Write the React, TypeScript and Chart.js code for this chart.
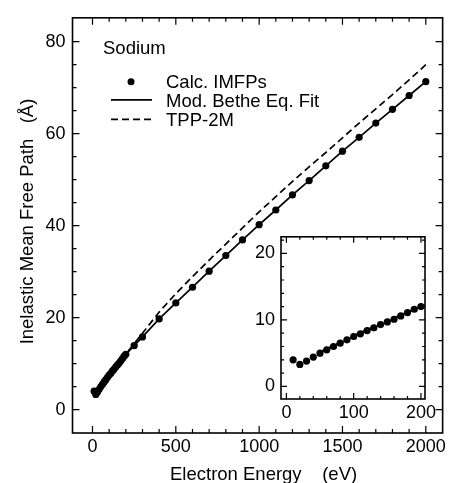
import React, { useEffect, useRef } from "react";
import { Chart, registerables } from "chart.js";

Chart.register(...registerables);

// ---------- data ----------
const calcEnergy = [10, 20, 30, 40, 50, 60, 70, 80, 90, 100, 110, 120, 130, 140, 150, 160, 170, 180, 190, 200, 250, 300, 400, 500, 600, 700, 800, 900, 1000, 1100, 1200, 1300, 1400, 1500, 1600, 1700, 1800, 1900, 2000];
const calcImfp = [4.0, 3.3, 3.8, 4.4, 5.0, 5.5, 6.0, 6.5, 7.0, 7.5, 7.9, 8.4, 8.8, 9.3, 9.7, 10.1, 10.6, 11.1, 11.6, 12.0, 13.9, 15.8, 19.7, 23.2, 26.6, 30.1, 33.5, 36.9, 40.2, 43.4, 46.7, 49.8, 53.0, 56.2, 59.2, 62.3, 65.3, 68.3, 71.3];

const fitEnergy = [50, 100, 150, 200, 250, 300, 400, 500, 600, 700, 800, 900, 1000, 1100, 1200, 1300, 1400, 1500, 1600, 1700, 1800, 1900, 2000];
const fitImfp = [5.0, 7.5, 9.7, 12.0, 13.9, 15.8, 19.7, 23.2, 26.6, 30.1, 33.5, 36.9, 40.2, 43.4, 46.7, 49.8, 53.0, 56.2, 59.2, 62.3, 65.3, 68.3, 71.3];

const tppEnergy = [50, 100, 150, 200, 250, 300, 400, 500, 600, 700, 800, 900, 1000, 1100, 1200, 1300, 1400, 1500, 1600, 1700, 1800, 1900, 2000];
const tppImfp = [5.2, 7.7, 9.9, 12.1, 14.3, 16.6, 21.2, 25.2, 28.9, 32.5, 36.0, 39.5, 43.0, 46.3, 49.6, 52.8, 55.9, 59.1, 62.3, 65.4, 68.5, 71.7, 75.0];

// main axes ticks
const xTickValues = [0, 500, 1000, 1500, 2000];
const xTickLabels = ["0", "500", "1000", "1500", "2000"];
const xMinorTicks = [0, 100, 200, 300, 400, 500, 600, 700, 800, 900, 1000, 1100, 1200, 1300, 1400, 1500, 1600, 1700, 1800, 1900, 2000];
const yTickValues = [0, 20, 40, 60, 80];
const yTickLabels = ["0", "20", "40", "60", "80"];
const yMinorTicks = [0, 5, 10, 15, 20, 25, 30, 35, 40, 45, 50, 55, 60, 65, 70, 75, 80];

// inset axes ticks
const insetXTickValues = [0, 100, 200];
const insetXTickLabels = ["0", "100", "200"];
const insetXMinorTicks = [0, 20, 40, 60, 80, 100, 120, 140, 160, 180, 200];
const insetYTickValues = [0, 10, 20];
const insetYTickLabels = ["0", "10", "20"];
const insetYMinorTicks = [0, 2, 4, 6, 8, 10, 12, 14, 16, 18, 20, 22];
const insetMaxEnergy = 200;

// texts
const materialLabel = "Sodium";
const seriesNames = ["Calc. IMFPs", "Mod. Bethe Eq. Fit", "TPP-2M"];
const xTitle = "Electron Energy    (eV)";
const yTitle = "Inelastic Mean Free Path   (Å)";

const FONT = "'Liberation Sans', Arial, Helvetica, sans-serif";

const pts = (xs: number[], ys: number[]) => xs.map((x, i) => ({ x, y: ys[i] }));

type FrameSpec = {
  xMinor: number[];
  xMajor: number[];
  yMinor: number[];
  yMajor: number[];
  majorLen: number;
  minorLen: number;
  fill: boolean;
};

const makeFramePlugin = (spec: FrameSpec) => ({
  id: "frameTicks",
  beforeDraw(chart: any) {
    if (!spec.fill) return;
    const { ctx, chartArea: a } = chart;
    ctx.save();
    ctx.fillStyle = "#ffffff";
    ctx.fillRect(a.left, a.top, a.right - a.left, a.bottom - a.top);
    ctx.restore();
  },
  afterDraw(chart: any) {
    const { ctx, chartArea: a } = chart;
    const xs = chart.scales.x;
    const ys = chart.scales.y;
    ctx.save();
    ctx.strokeStyle = "#000";
    ctx.lineWidth = 1.6;
    ctx.strokeRect(a.left, a.top, a.right - a.left, a.bottom - a.top);
    ctx.lineWidth = 1.2;
    ctx.beginPath();
    for (const v of spec.xMinor) {
      const px = xs.getPixelForValue(v);
      const len = spec.xMajor.includes(v) ? spec.majorLen : spec.minorLen;
      ctx.moveTo(px, a.bottom);
      ctx.lineTo(px, a.bottom - len);
      ctx.moveTo(px, a.top);
      ctx.lineTo(px, a.top + len);
    }
    for (const v of spec.yMinor) {
      const py = ys.getPixelForValue(v);
      const len = spec.yMajor.includes(v) ? spec.majorLen : spec.minorLen;
      ctx.moveTo(a.left, py);
      ctx.lineTo(a.left + len, py);
      ctx.moveTo(a.right, py);
      ctx.lineTo(a.right - len, py);
    }
    ctx.stroke();
    ctx.restore();
  },
});

const annotationPlugin = {
  id: "annotations",
  afterDraw(chart: any) {
    const { ctx, chartArea: a } = chart;
    ctx.save();
    ctx.fillStyle = "#000";
    ctx.strokeStyle = "#000";
    ctx.font = `18.5px ${FONT}`;
    ctx.textBaseline = "alphabetic";
    ctx.textAlign = "left";
    // material label
    ctx.fillText(materialLabel, a.left + 30.5, a.top + 36.5);
    // legend
    const textX = a.left + 93.5;
    const row = [a.top + 70, a.top + 88.8, a.top + 108.3];
    const mid = [a.top + 64, a.top + 82, a.top + 101.5];
    ctx.beginPath();
    ctx.arc(a.left + 58.5, mid[0], 3.5, 0, Math.PI * 2);
    ctx.fill();
    ctx.lineWidth = 1.7;
    ctx.beginPath();
    ctx.moveTo(a.left + 38.5, mid[1]);
    ctx.lineTo(a.left + 79.5, mid[1]);
    ctx.stroke();
    ctx.setLineDash([7, 4]);
    ctx.beginPath();
    ctx.moveTo(a.left + 38.5, mid[2]);
    ctx.lineTo(a.left + 80.5, mid[2]);
    ctx.stroke();
    ctx.setLineDash([]);
    seriesNames.forEach((n, i) => ctx.fillText(n, textX, row[i]));
    // axis titles
    ctx.font = `18.5px ${FONT}`;
    ctx.fillText(xTitle, 170, 480);
    ctx.translate(33, 221.5);
    ctx.rotate(-Math.PI / 2);
    ctx.textAlign = "center";
    ctx.fillText(yTitle, 0, 0);
    ctx.restore();
  },
};

const tickFont = { family: FONT, size: 18 };

export default function App() {
  const mainRef = useRef<HTMLCanvasElement>(null);
  const insetRef = useRef<HTMLCanvasElement>(null);

  useEffect(() => {
    const main = new Chart(mainRef.current as HTMLCanvasElement, {
      type: "scatter",
      data: {
        datasets: [
          {
            label: seriesNames[0],
            data: pts(calcEnergy, calcImfp),
            pointRadius: 3.6,
            pointBackgroundColor: "#000",
            pointBorderColor: "#000",
            pointBorderWidth: 0,
            showLine: false,
          },
          {
            label: seriesNames[1],
            data: pts(fitEnergy, fitImfp),
            showLine: true,
            borderColor: "#000",
            borderWidth: 1.7,
            pointRadius: 0,
          },
          {
            label: seriesNames[2],
            data: pts(tppEnergy, tppImfp),
            showLine: true,
            borderColor: "#000",
            borderWidth: 1.7,
            borderDash: [7, 4],
            pointRadius: 0,
          },
        ],
      } as any,
      options: {
        responsive: false,
        animation: false,
        events: [],
        layout: { padding: { top: 15, right: 4, left: 0, bottom: 0 } },
        plugins: { legend: { display: false }, tooltip: { enabled: false } },
        scales: {
          x: {
            type: "linear",
            min: -120,
            max: 2101,
            afterBuildTicks: (s: any) => {
              s.ticks = xTickValues.map((v) => ({ value: v }));
            },
            afterFit: (s: any) => {
              s.height = 50;
            },
            grid: { display: false, drawTicks: false },
            border: { display: false },
            ticks: {
              color: "#000",
              font: tickFont,
              padding: 3,
              maxRotation: 0,
              autoSkip: false,
              callback: (v: any) => xTickLabels[xTickValues.indexOf(Number(v))] ?? "",
            },
          },
          y: {
            type: "linear",
            min: -5.1,
            max: 85.2,
            afterBuildTicks: (s: any) => {
              s.ticks = yTickValues.map((v) => ({ value: v }));
            },
            afterFit: (s: any) => {
              s.width = 72.5;
            },
            grid: { display: false, drawTicks: false },
            border: { display: false },
            ticks: {
              color: "#000",
              font: tickFont,
              padding: 7,
              autoSkip: false,
              callback: (v: any) => yTickLabels[yTickValues.indexOf(Number(v))] ?? "",
            },
          },
        },
      } as any,
      plugins: [
        makeFramePlugin({
          xMinor: xMinorTicks,
          xMajor: xTickValues,
          yMinor: yMinorTicks,
          yMajor: yTickValues,
          majorLen: 7,
          minorLen: 4,
          fill: false,
        }),
        annotationPlugin,
      ],
    });

    const insetCalcE = calcEnergy.filter((e) => e <= insetMaxEnergy);
    const insetCalcV = calcImfp.filter((_, i) => calcEnergy[i] <= insetMaxEnergy);

    const inset = new Chart(insetRef.current as HTMLCanvasElement, {
      type: "scatter",
      data: {
        datasets: [
          {
            data: pts(insetCalcE, insetCalcV),
            pointRadius: 3.6,
            pointBackgroundColor: "#000",
            pointBorderColor: "#000",
            pointBorderWidth: 0,
            showLine: false,
          },
          {
            data: pts(fitEnergy, fitImfp),
            showLine: true,
            borderColor: "#000",
            borderWidth: 1.5,
            pointRadius: 0,
          },
          {
            data: pts(tppEnergy, tppImfp),
            showLine: true,
            borderColor: "#000",
            borderWidth: 1.2,
            borderDash: [5, 4],
            pointRadius: 0,
          },
        ],
      } as any,
      options: {
        responsive: false,
        animation: false,
        events: [],
        layout: { padding: { top: 10, right: 24, left: 0, bottom: 0 } },
        plugins: { legend: { display: false }, tooltip: { enabled: false } },
        scales: {
          x: {
            type: "linear",
            min: -8,
            max: 206,
            afterBuildTicks: (s: any) => {
              s.ticks = insetXTickValues.map((v) => ({ value: v }));
            },
            afterFit: (s: any) => {
              s.height = 36;
            },
            grid: { display: false, drawTicks: false },
            border: { display: false },
            ticks: {
              color: "#000",
              font: tickFont,
              padding: 3,
              maxRotation: 0,
              autoSkip: false,
              callback: (v: any) => insetXTickLabels[insetXTickValues.indexOf(Number(v))] ?? "",
            },
          },
          y: {
            type: "linear",
            min: -1.9,
            max: 22.5,
            afterBuildTicks: (s: any) => {
              s.ticks = insetYTickValues.map((v) => ({ value: v }));
            },
            afterFit: (s: any) => {
              s.width = 41;
            },
            grid: { display: false, drawTicks: false },
            border: { display: false },
            ticks: {
              color: "#000",
              font: tickFont,
              padding: 6,
              autoSkip: false,
              callback: (v: any) => insetYTickLabels[insetYTickValues.indexOf(Number(v))] ?? "",
            },
          },
        },
      } as any,
      plugins: [
        makeFramePlugin({
          xMinor: insetXMinorTicks,
          xMajor: insetXTickValues,
          yMinor: insetYMinorTicks,
          yMajor: insetYTickValues,
          majorLen: 6,
          minorLen: 3,
          fill: true,
        }),
      ],
    });

    return () => {
      main.destroy();
      inset.destroy();
    };
  }, []);

  return (
    <div style={{ position: "fixed", left: 0, top: 0, width: 449, height: 483, background: "#fff" }}>
      <canvas
        ref={mainRef}
        width={449}
        height={483}
        style={{ position: "absolute", left: 0, top: 0, width: 449, height: 483 }}
      />
      <canvas
        ref={insetRef}
        width={209}
        height={215}
        style={{ position: "absolute", left: 240, top: 220, width: 209, height: 215 }}
      />
    </div>
  );
}
